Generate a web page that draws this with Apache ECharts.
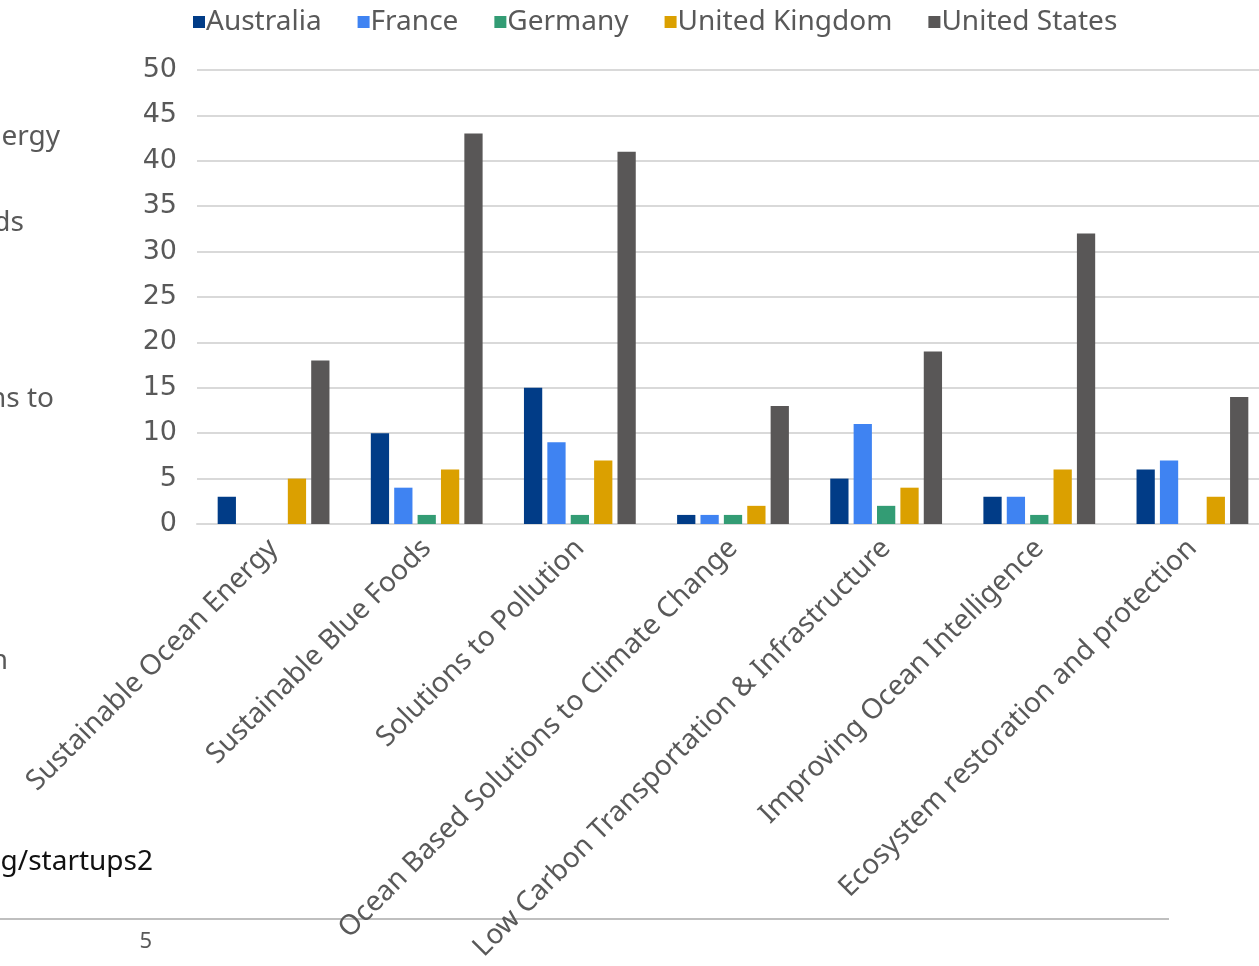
<!DOCTYPE html>
<html>
<head>
<meta charset="utf-8">
<script src="https://cdn.jsdelivr.net/npm/echarts@6/dist/echarts.min.js"></script>
<style>
html,body{margin:0;padding:0;background:#fff;}
#chart{width:1259px;height:966px;}
</style>
</head>
<body>
<div id="chart"></div>
<script>
const categories = [
  "Sustainable Ocean Energy",
  "Sustainable Blue Foods",
  "Solutions to Pollution",
  "Ocean Based Solutions to Climate Change",
  "Low Carbon Transportation & Infrastructure",
  "Improving Ocean Intelligence",
  "Ecosystem restoration and protection"
];
const australia = [3, 10, 15, 1, 5, 3, 6];
const france = [null, 4, 9, 1, 11, 3, 7];
const germany = [null, 1, 1, 1, 2, 1, null];
const unitedKingdom = [5, 6, 7, 2, 4, 6, 3];
const unitedStates = [18, 43, 41, 13, 19, 32, 14];
const seriesNames = ["Australia", "France", "Germany", "United Kingdom", "United States"];
const seriesData = [australia, france, germany, unitedKingdom, unitedStates];
const colors = ["#013C87", "#3F83F2", "#339C74", "#DBA000", "#595757"];

const FONT = "Noto Sans";
const chart = echarts.init(document.getElementById('chart'));
const strayText = (txt, right, cy, color, size) => ({
  type: 'text', x: right, y: cy, silent: true,
  style: { text: txt, fontSize: size || 28, fill: color || '#595959', fontFamily: FONT,
           align: 'right', verticalAlign: 'middle' }
});
chart.setOption({
  animation: false,
  color: colors,
  textStyle: { fontFamily: FONT },
  legend: {
    left: 188, top: 3,
    itemWidth: 12, itemHeight: 12, itemGap: 36,
    icon: 'rect',
    textStyle: { fontSize: 28, color: '#595959', fontFamily: FONT, padding: [0,0,0,-4] },
    data: seriesNames
  },
  grid: { left: 197, width: 1072, top: 70, height: 454, containLabel: false, outerBoundsMode: 'none' },
  xAxis: {
    type: 'category',
    data: categories,
    axisLine: { lineStyle: { color: '#D9D9D9', width: 2 } },
    axisTick: { show: false },
    axisLabel: {
      rotate: 45, interval: 0, margin: 20,
      fontSize: 28, color: '#595959', fontFamily: FONT
    }
  },
  yAxis: {
    type: 'value', min: 0, max: 50, interval: 5,
    axisLine: { show: false },
    axisTick: { show: false },
    splitLine: { lineStyle: { color: '#D9D9D9', width: 2 } },
    axisLabel: { fontSize: 27, color: '#595959', margin: 20, fontFamily: 'DejaVu Sans' }
  },
  series: seriesNames.map((n, i) => ({
    name: n, type: 'bar', data: seriesData[i],
    barGap: '28%', barCategoryGap: '27%',
    itemStyle: { color: colors[i] }
  })),
  graphic: [
    { type: 'line', z: -1, silent: true, shape: { x1: 0, y1: 919, x2: 1169, y2: 919 }, style: { stroke: '#BFBFBF', lineWidth: 2 } },
    strayText('ergy', 60, 137),
    strayText('ds', 24, 223),
    strayText('ns to', 54, 399),
    strayText('n', 8, 661),
    strayText('g/startups2', 153, 862, '#111111'),
    strayText('5', 152, 942, '#595959', 22)
  ]
});
</script>
</body>
</html>
